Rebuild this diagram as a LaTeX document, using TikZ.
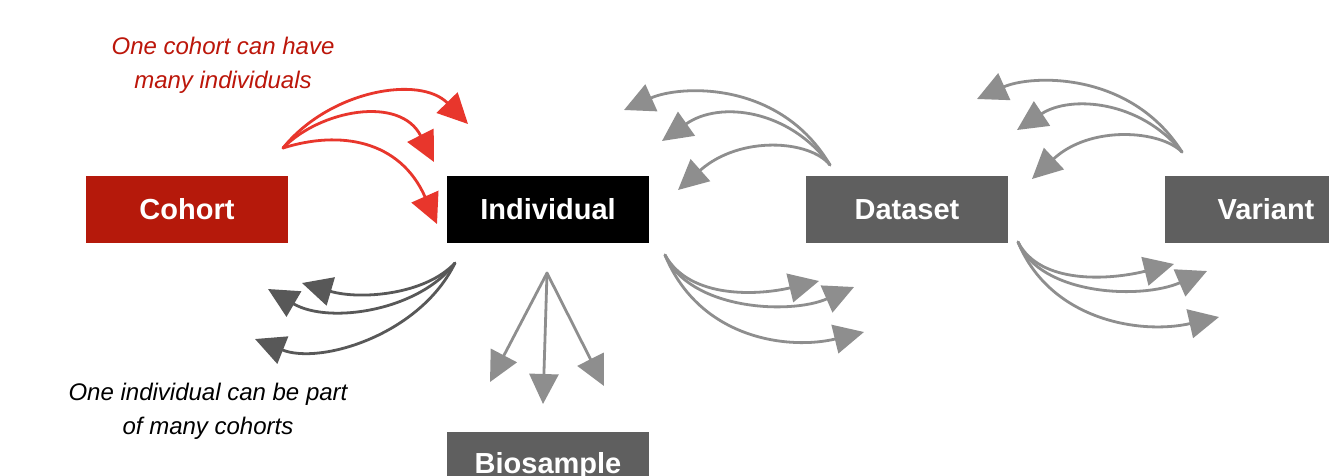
\documentclass[tikz,border=0pt]{standalone}
\usepackage{fontspec}
\setmainfont{Liberation Sans}
\usetikzlibrary{arrows.meta}
\definecolor{cohortred}{HTML}{B5190B}
\definecolor{arrred}{HTML}{E8362C}
\definecolor{boxgray}{HTML}{5F5F5F}
\definecolor{arrgray}{HTML}{8E8E8E}
\definecolor{darkarr}{HTML}{585858}
\tikzset{
  entity/.style={minimum width=202pt, minimum height=67pt, inner sep=0pt, text=white,
    font=\fontsize{29}{32}\selectfont\bfseries},
  note/.style={align=center, font=\fontsize{24}{34}\selectfont\itshape},
  sketch/.style={line width=2.8pt, line cap=round, -{Triangle[length=30pt,width=29pt]}},
  redarr/.style={sketch, draw=arrred},
  grayarr/.style={sketch, draw=arrgray},
  darkgrayarr/.style={sketch, draw=darkarr},
}
\begin{document}
\begin{tikzpicture}[x=1pt,y=-1pt]
\useasboundingbox (0,0) rectangle (1329,475);
\clip (0,0) rectangle (1329,475);
\fill[white] (0,0) rectangle (1329,475);

% boxes
\node[entity, fill=cohortred] (cohort) at (187,209.5) {Cohort};
\node[entity, fill=black] (individual) at (548,209.5) {Individual};
\node[entity, fill=boxgray] (dataset) at (907,209.5) {Dataset};
\node[entity, fill=boxgray] (variant) at (1266,209.5) {Variant};
\node[entity, fill=boxgray] (biosample) at (548,465.5) {Biosample};

% notes
\node[note, text=cohortred!90!red] (rednote) at (223,65) {One cohort can have\\many individuals};
\node[note, text=black] (blacknote) at (208,411) {One individual can be part\\of many cohorts};

% arrow anchors
\coordinate (R) at (283,148);
\coordinate (R1) at (468,124);
\coordinate (R2) at (434,162);
\coordinate (R3) at (437,224);

\coordinate (L) at (455,263);
\coordinate (L1) at (302,283);
\coordinate (L2) at (268,289);
\coordinate (L3) at (255,339);

\coordinate (D) at (547,273);
\coordinate (D1) at (490,382);
\coordinate (D2) at (543,404);
\coordinate (D3) at (604,386);

\coordinate (U) at (830,165);
\coordinate (U1) at (624,110);
\coordinate (U2) at (662,141);
\coordinate (U3) at (678,190);

\coordinate (V) at (665,255);
\coordinate (V1) at (819,281);
\coordinate (V2) at (854,287);
\coordinate (V3) at (864,332);

\coordinate (W) at (1182,152);
\coordinate (W1) at (977,99);
\coordinate (W2) at (1017,130);
\coordinate (W3) at (1032,179);

\coordinate (X) at (1018,242);
\coordinate (X1) at (1174,264);
\coordinate (X2) at (1207,271);
\coordinate (X3) at (1219,317);

% red arrows: cohort -> individual
\draw[redarr] (R) .. controls (330,90) and (420,75) .. (R1);
\draw[redarr] (R) .. controls (320,110) and (400,95) .. (R2);
\draw[redarr] (R) .. controls (340,130) and (400,140) .. (R3);

% individual -> cohorts
\draw[darkgrayarr] (L) .. controls (425,295) and (360,300) .. (L1);
\draw[darkgrayarr] (L) .. controls (420,310) and (330,325) .. (L2);
\draw[darkgrayarr] (L) .. controls (420,335) and (320,365) .. (L3);

% individual -> biosamples
\draw[grayarr] (D) -- (D1);
\draw[grayarr] (D) -- (D2);
\draw[grayarr] (D) -- (D3);

% dataset -> individuals
\draw[grayarr] (U) .. controls (780,80) and (680,85) .. (U1);
\draw[grayarr] (U) .. controls (790,110) and (720,100) .. (U2);
\draw[grayarr] (U) .. controls (810,140) and (740,135) .. (U3);

% individual -> datasets
\draw[grayarr] (V) .. controls (690,300) and (760,295) .. (V1);
\draw[grayarr] (V) .. controls (690,310) and (790,315) .. (V2);
\draw[grayarr] (V) .. controls (700,340) and (790,350) .. (V3);

% variant -> datasets
\draw[grayarr] (W) .. controls (1130,70) and (1030,75) .. (W1);
\draw[grayarr] (W) .. controls (1140,100) and (1070,95) .. (W2);
\draw[grayarr] (W) .. controls (1160,130) and (1090,125) .. (W3);

% dataset -> variants
\draw[grayarr] (X) .. controls (1040,285) and (1110,280) .. (X1);
\draw[grayarr] (X) .. controls (1040,295) and (1140,300) .. (X2);
\draw[grayarr] (X) .. controls (1050,320) and (1140,335) .. (X3);
\end{tikzpicture}
\end{document}
